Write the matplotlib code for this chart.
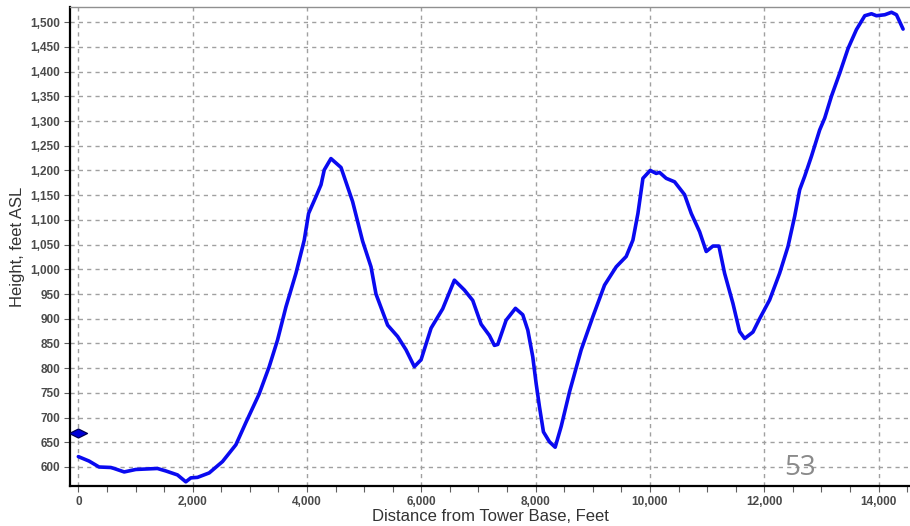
import matplotlib
matplotlib.use("Agg")
import matplotlib.pyplot as plt
from matplotlib.ticker import MultipleLocator, FuncFormatter
from matplotlib.path import Path

# Terrain profile from the tower base
distance_ft = [0, 187, 362, 567, 625, 802, 1005, 1383, 1530, 1734, 1880, 1968, 2084,
               2289, 2522, 2756, 2931, 3164, 3339, 3485, 3632, 3807, 3952, 4028,
               4157, 4245, 4302, 4419, 4595, 4798, 4973, 5120, 5207, 5411, 5586,
               5733, 5878, 5996, 6171, 6374, 6579, 6754, 6900, 7046, 7192, 7279,
               7338, 7484, 7647, 7775, 7863, 7950, 8009, 8067, 8137, 8242, 8342,
               8447, 8593, 8797, 9001, 9206, 9410, 9585, 9702, 9790, 9877, 10005,
               10110, 10168, 10285, 10431, 10606, 10723, 10869, 10985, 11102,
               11207, 11306, 11452, 11569, 11657, 11802, 11919, 12094, 12269,
               12415, 12532, 12620, 12707, 12824, 12970, 13058, 13175, 13321,
               13467, 13613, 13759, 13876, 13963, 14109, 14226, 14313, 14429]
height_ft = [621, 612, 600, 599, 597, 590, 595, 597, 592, 584, 570, 578, 579,
             588, 611, 645, 690, 748, 803, 857, 924, 992, 1059, 1113,
             1147, 1171, 1201, 1224, 1206, 1137, 1057, 1005, 950, 887, 864,
             837, 803, 817, 881, 920, 978, 958, 937, 889, 866, 846,
             848, 897, 921, 908, 877, 823, 769, 722, 671, 651, 640,
             682, 752, 837, 904, 968, 1005, 1026, 1059, 1113, 1184, 1200,
             1194, 1196, 1184, 1177, 1151, 1113, 1076, 1036, 1047,
             1047, 992, 931, 874, 860, 873, 900, 938, 992,
             1046, 1107, 1161, 1188, 1228, 1282, 1306, 1350, 1397,
             1447, 1485, 1513, 1517, 1513, 1515, 1520, 1515, 1486]

# Tower base reference point
tower_distance = [0]
tower_height = [669]

page_number = "53"

plt.rcParams["font.family"] = ["Liberation Sans", "DejaVu Sans"]

fig = plt.figure(figsize=(9.10, 5.26), dpi=100)
ax = fig.add_axes([0.077, 0.076, 0.923, 0.911])

ax.plot(distance_ft, height_ft, color="#0a0af0", lw=2.6, solid_joinstyle="round",
        solid_capstyle="round", zorder=3)

diamond = Path([(-1, 0), (0, 0.5), (1, 0), (0, -0.5), (-1, 0)],
               [Path.MOVETO, Path.LINETO, Path.LINETO, Path.LINETO, Path.CLOSEPOLY])
ax.plot(tower_distance, tower_height, linestyle="none", marker=diamond,
        markersize=13, markerfacecolor="#0000d8", markeredgecolor="#000050",
        markeredgewidth=0.9, zorder=4)

ax.set_xlim(-145, 14550)
ax.set_ylim(561.5, 1531)

ax.xaxis.set_major_locator(MultipleLocator(2000))
ax.xaxis.set_minor_locator(MultipleLocator(500))
ax.yaxis.set_major_locator(MultipleLocator(50))
ax.yaxis.set_major_formatter(FuncFormatter(lambda v, p: f"{int(v):,}"))
ax.xaxis.set_major_formatter(FuncFormatter(lambda v, p: f"{int(v):,}"))

ax.grid(True, which="major", color="#a0a0a0", linestyle=(0, (3, 3)), linewidth=1.0)
ax.set_axisbelow(True)

ax.tick_params(axis="both", which="both", direction="out", length=4, width=0.8,
               color="#606060", labelsize=8.5, labelcolor="#4a4a4a", pad=3)
for lbl in ax.get_xticklabels() + ax.get_yticklabels():
    lbl.set_fontweight("bold")

for side in ("left", "bottom"):
    ax.spines[side].set_linewidth(1.6)
    ax.spines[side].set_color("black")
ax.spines["top"].set_color("#909090")
ax.spines["top"].set_linewidth(1.0)
ax.spines["right"].set_visible(False)

ax.set_xlabel("Distance from Tower Base, Feet", fontsize=12, color="#333333", labelpad=1)
ax.set_ylabel("Height, feet ASL", fontsize=12, color="#333333", labelpad=4)

fig.text(800 / 910, 1 - 468 / 526, page_number, fontsize=20, color="#8a8a8a",
         ha="center", va="center", family=["Open Sans", "DejaVu Sans"])

fig.savefig("out.png", dpi=100, facecolor="white")
